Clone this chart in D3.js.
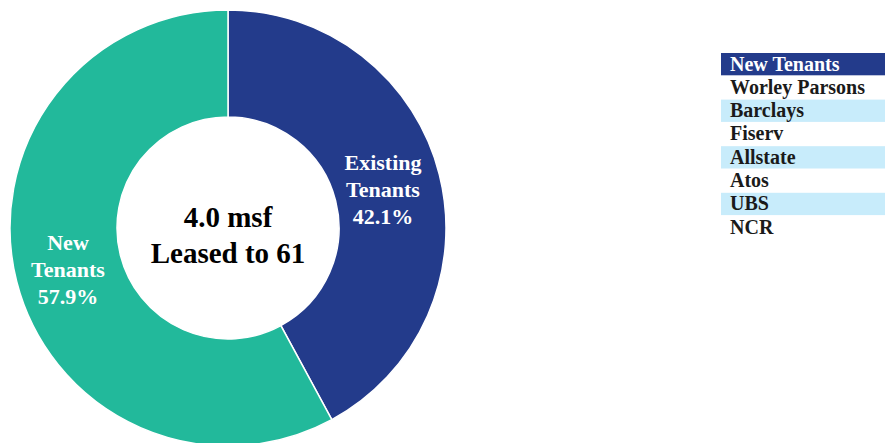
<!DOCTYPE html>
<html><head><meta charset="utf-8">
<script src="https://cdn.jsdelivr.net/npm/d3@7"></script>
<style>body{margin:0;background:#fff}svg{display:block}</style>
</head><body>
<svg id="c" width="885" height="443"></svg>
<script>
const categories = ["Existing Tenants", "New Tenants"];
const values = [42.1, 57.9];
const colors = ["#233b8b", "#22b99b"];
const centerLines = ["4.0 msf", "Leased to 61"];
const legendItems = ["New Tenants", "Worley Parsons", "Barclays", "Fiserv", "Allstate", "Atos", "UBS", "NCR"];

const svg = d3.select("#c");
const font = "'Liberation Serif','Times New Roman',serif";
const cx = 228, cy = 228, R = 218, r = 111;
const pie = d3.pie().sort(null).value(d => d)(values);
const arc = d3.arc().innerRadius(r).outerRadius(R);
const g = svg.append("g").attr("transform", `translate(${cx},${cy})`);
g.selectAll("path").data(pie).join("path")
  .attr("d", arc).attr("fill", (d, i) => colors[i])
  .attr("stroke", "#fff").attr("stroke-width", 1.5);

const labelPos = [[155, -58], [-160, 22]];
pie.forEach((d, i) => {
  const words = categories[i].split(" ");
  const lines = [...words, values[i].toFixed(1) + "%"];
  const t = g.append("text").attr("text-anchor", "middle")
    .attr("font-family", font).attr("font-weight", "bold")
    .attr("font-size", 22).attr("fill", "#fff");
  lines.forEach((l, j) => t.append("tspan").attr("x", labelPos[i][0])
    .attr("y", labelPos[i][1] + j * 27).text(l));
});

const ct = g.append("text").attr("text-anchor", "middle")
  .attr("font-family", font).attr("font-weight", "bold")
  .attr("font-size", 29).attr("fill", "#000");
centerLines.forEach((l, j) => ct.append("tspan").attr("x", 0).attr("y", -1 + j * 36).text(l));

const lx = 721, ly = 53, rh = 23.3, lw = 164;
const lg = svg.append("g");
legendItems.forEach((name, i) => {
  const y = ly + i * rh;
  const bg = i === 0 ? "#233b8b" : (i % 2 === 0 ? "#c8ecfb" : "none");
  if (bg !== "none") lg.append("rect").attr("x", lx).attr("y", y).attr("width", lw).attr("height", rh - 1).attr("fill", bg);
  lg.append("text").attr("x", lx + 9).attr("y", y + 17.5)
    .attr("font-family", font).attr("font-weight", "bold").attr("font-size", 20)
    .attr("fill", i === 0 ? "#fff" : "#1a1a1a").text(name);
});
</script>
</body></html>
